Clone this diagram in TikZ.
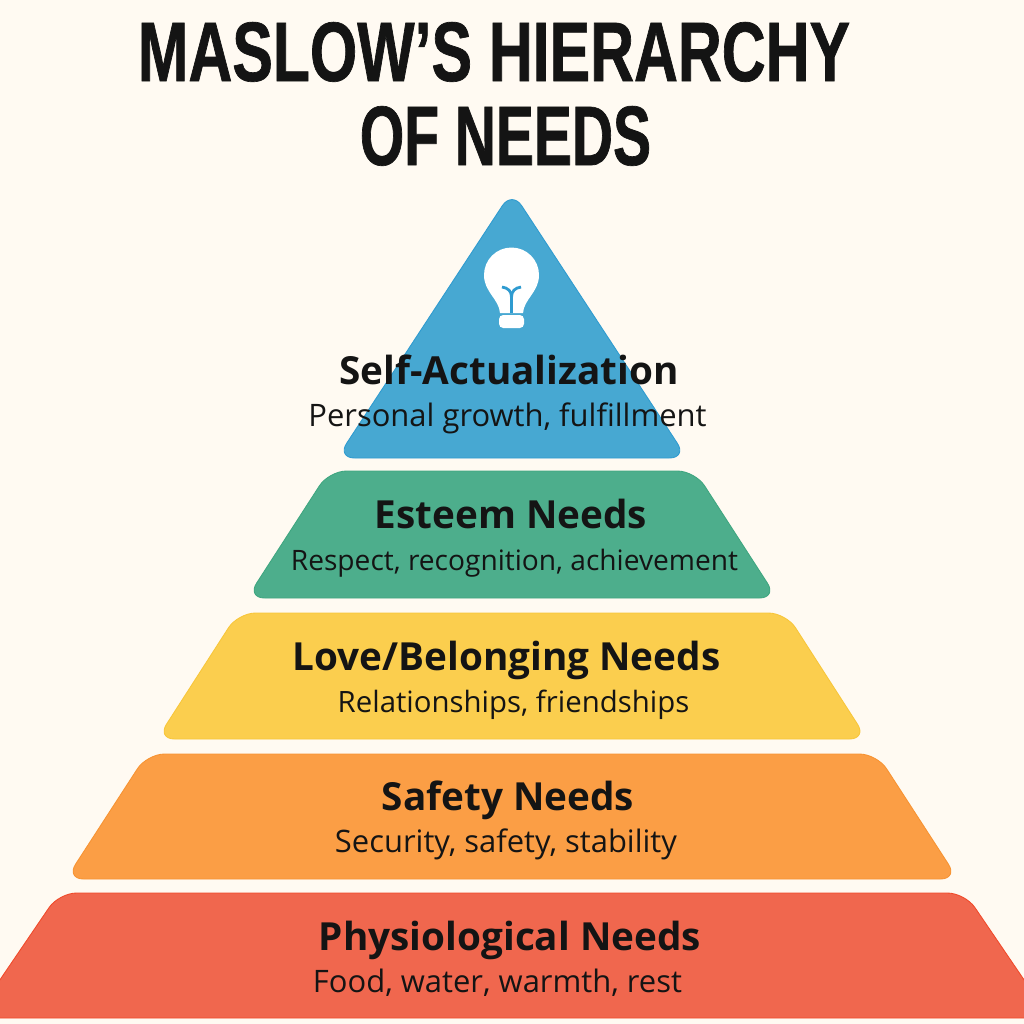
\documentclass[tikz,border=0pt]{standalone}
\usepackage{fontspec}
\setmainfont{Open Sans}
\newfontfamily\titlefont[FakeStretch=0.72,BoldFont={Liberation Sans Bold},BoldFeatures={FakeBold=0.8}]{Liberation Sans}
\newfontfamily\titlefontshort[FakeStretch=0.675,BoldFont={Liberation Sans Bold},BoldFeatures={FakeBold=0.8}]{Liberation Sans}
\definecolor{paper}{HTML}{FFFAF2}
\definecolor{skyfill}{HTML}{47A8D2}
\definecolor{skyline}{HTML}{2F9BD0}
\definecolor{greenfill}{HTML}{4DAE8C}
\definecolor{greenline}{HTML}{3FA680}
\definecolor{yellowfill}{HTML}{FBCE4E}
\definecolor{yellowline}{HTML}{F8C63A}
\definecolor{orangefill}{HTML}{FB9E45}
\definecolor{orangeline}{HTML}{F79332}
\definecolor{redfill}{HTML}{F0674E}
\definecolor{redline}{HTML}{F04A2A}
\definecolor{inkcolor}{HTML}{141414}

\begin{document}
\begin{tikzpicture}[
            x=0.01cm,
            y=-0.01cm,
            layer/.style={line width=0.25pt, rounded corners=5pt},
            heading/.style={anchor=base, inner sep=0pt, text=inkcolor, font=\fontsize{11}{13}\selectfont\bfseries},
            detail/.style={anchor=base, inner sep=0pt, text=inkcolor, font=\fontsize{8.8}{11}\selectfont},
            headline/.style={anchor=base, inner sep=0pt, text=inkcolor, font=\titlefont\fontsize{24}{28}\selectfont\bfseries}
            ]
            \useasboundingbox (0,0) rectangle (1024,1024);
            \fill[paper] (0,0) rectangle (1024,1024);

            % title
            \node[headline] (titleone) at (494,81) {MASLOW’S HIERARCHY};
            \node[headline, font=\titlefontshort\fontsize{24}{28}\selectfont\bfseries] (titletwo) at (505.5,165) {OF NEEDS};

            % layers
            \draw[layer, fill=skyfill, draw=skyline] (512,191) -- (687,458) -- (337,458) -- cycle;
            \draw[layer, fill=greenfill, draw=greenline] (329,471) -- (695,471) -- (777,598) -- (247,598) -- cycle;
            \draw[layer, fill=yellowfill, draw=yellowline] (238,613) -- (786,613) -- (867,739) -- (157,739) -- cycle;
            \draw[layer, fill=orangefill, draw=orangeline] (147,754) -- (877,754) -- (958,879) -- (66,879) -- cycle;
            \draw[layer, fill=redfill, draw=redline] (-26,1018) -- (59,893) -- (965,893) -- (1050,1018) -- cycle;

            % bulb
            \fill[white] (500,313) .. controls (499,299) and (484,292) .. (484,275)
                arc[start angle=180, end angle=360, radius=27.5]
                .. controls (539,292) and (524,299) .. (523,313) -- cycle;
            \fill[white, rounded corners=1.2pt] (499,315) -- (524,315) -- (524,328) -- (499,328) -- cycle;
            \draw[skyline, thick] (511.5,313) -- (511.5,297);
            \draw[skyline, thick] (502,287) .. controls (508,288) and (511.5,291) .. (511.5,297);
            \draw[skyline, thick] (521,287) .. controls (515,288) and (511.5,291) .. (511.5,297);

            % labels
            \node[heading] (selfhead) at (509,384) {Self-Actualization};
            \node[detail] (selftext) at (507.5,426) {Personal growth, fulfillment};
            \node[heading] (esteemhead) at (511,528) {Esteem Needs};
            \node[detail, font=\fontsize{8}{10}\selectfont] (esteemtext) at (514.5,570) {Respect, recognition, achievement};
            \node[heading] (lovehead) at (506.5,670) {Love/Belonging Needs};
            \node[detail, font=\fontsize{8.35}{10}\selectfont] (lovetext) at (513.5,712) {Relationships, friendships};
            \node[heading] (safetyhead) at (508,810) {Safety Needs};
            \node[detail] (safetytext) at (506,852) {Security, safety, stability};
            \node[heading] (bodyhead) at (510,950) {Physiological Needs};
            \node[detail] (bodytext) at (497.5,992) {Food, water, warmth, rest};

        \end{tikzpicture}
\end{document}
